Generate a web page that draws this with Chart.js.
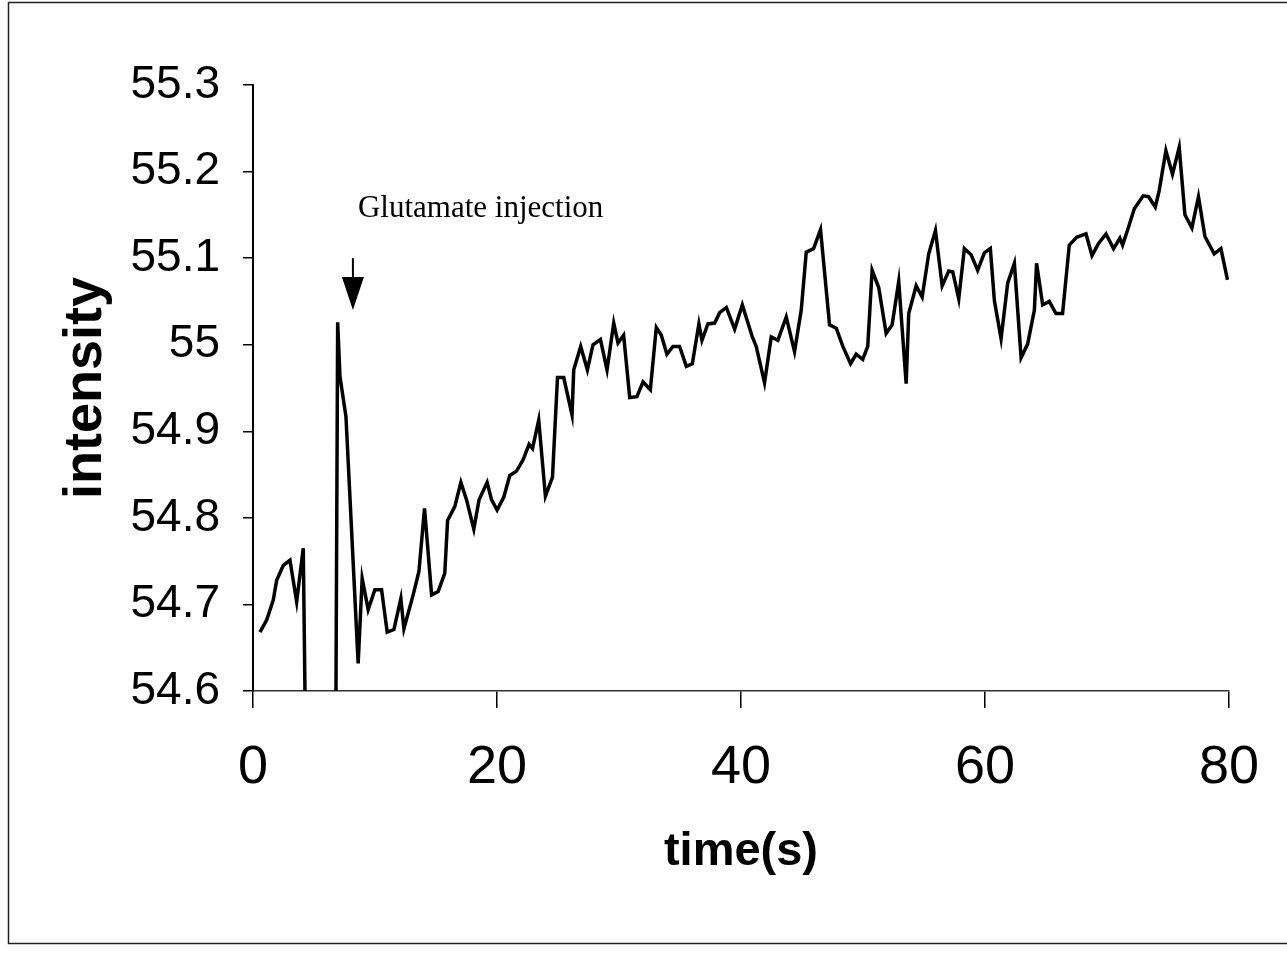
<!DOCTYPE html>
<html>
<head>
<meta charset="utf-8">
<script src="https://cdn.jsdelivr.net/npm/chart.js@4/dist/chart.umd.min.js"></script>
<style>
  html, body { margin: 0; padding: 0; background: #fff; }
  #wrap { width: 1287px; height: 956px; position: relative; }
</style>
</head>
<body>
<div id="wrap"><canvas id="c"></canvas></div>
<script>
// ---- data ----
const timeSec = [0.57,1.12,1.66,1.94,2.48,3.03,3.58,4.12,4.65,5.2,5.8,6.4,6.94,7.13,7.62,8.62,8.95,9.44,9.99,10.54,
  11.0,11.55,12.12,12.37,13.13,13.6,14.06,14.64,15.18,15.72,15.95,16.54,17.04,17.5,18.1,18.53,19.19,19.55,20.01,20.56,
  21.05,21.6,22.14,22.63,22.91,23.42,23.97,24.55,24.73,24.96,25.47,26.15,26.29,26.86,27.41,27.87,28.48,29.02,29.57,29.92,
  30.38,30.88,31.47,31.97,32.57,33.06,33.47,33.93,34.42,34.97,35.52,36.01,36.55,36.8,37.29,37.84,38.25,38.8,39.48,40.11,
  40.93,41.25,41.93,42.48,43.02,43.71,44.39,44.94,45.35,45.95,46.52,47.26,47.81,48.35,48.98,49.44,49.98,50.39,50.75,51.29,
  51.9,52.39,52.93,53.54,53.75,54.36,54.85,55.39,55.94,56.49,57.03,57.36,57.85,58.31,58.86,59.4,59.95,60.44,60.77,61.32,
  61.86,62.41,62.96,63.5,64.05,64.23,64.73,65.27,65.82,66.36,66.91,67.51,68.28,68.77,69.31,69.92,70.54,71.06,71.28,71.77,
  72.24,72.97,73.41,73.96,74.28,74.83,75.37,75.92,76.39,76.96,77.5,78.03,78.79,79.34,79.88];
const intensity = [54.668,54.682,54.705,54.728,54.745,54.751,54.703,54.765,54.14,53.6,53.4,53.37,55.026,54.963,54.917,54.632,54.730,54.694,54.717,54.717,
  54.668,54.671,54.707,54.672,54.711,54.738,54.811,54.711,54.715,54.736,54.797,54.813,54.841,54.821,54.787,54.821,54.841,54.821,54.809,54.824,
  54.849,54.854,54.867,54.885,54.880,54.913,54.825,54.847,54.898,54.962,54.962,54.919,54.971,54.998,54.971,55.000,55.006,54.971,55.025,55.002,
  55.011,54.939,54.940,54.957,54.948,55.020,55.011,54.989,54.998,54.998,54.975,54.978,55.024,55.005,55.024,55.025,55.037,55.043,55.018,55.046,
  55.009,54.998,54.956,55.009,55.005,55.032,54.992,55.040,55.107,55.111,55.133,55.023,55.019,54.998,54.978,54.989,54.983,54.998,55.086,55.066,
  55.013,55.023,55.073,54.955,55.036,55.068,55.055,55.105,55.132,55.068,55.085,55.084,55.053,55.111,55.104,55.086,55.106,55.111,55.051,55.007,
  55.071,55.094,54.985,55.001,55.040,55.094,55.046,55.050,55.036,55.036,55.115,55.124,55.128,55.103,55.117,55.128,55.111,55.123,55.115,55.136,
  55.157,55.172,55.171,55.159,55.178,55.224,55.197,55.228,55.150,55.135,55.171,55.125,55.105,55.111,55.075];
const xTickValues = [0, 20, 40, 60, 80];
const yTickValues = [54.6, 54.7, 54.8, 54.9, 55.0, 55.1, 55.2, 55.3];
const annotationText = 'Glutamate injection';
const injectionTime = 8.19;     // arrow position (s)
const arrowTipValue = 55.04;
const arrowTopValue = 55.10;
const labelTime = 8.6;
const labelValue = 55.147;

const points = timeSec.map((t, i) => ({ x: t, y: intensity[i] }));

const framePlugin = {
  id: 'frame',
  beforeDraw(chart) {
    const ctx = chart.ctx;
    ctx.save();
    ctx.fillStyle = '#fff';
    ctx.fillRect(0, 0, chart.width, chart.height);
    ctx.strokeStyle = '#222';
    ctx.lineWidth = 1.5;
    ctx.strokeRect(8.5, 2.5, chart.width + 20, 941);
    ctx.restore();
  }
};

const annotationPlugin = {
  id: 'injection',
  afterDraw(chart) {
    const { ctx, scales: { x, y } } = chart;
    ctx.save();
    ctx.fillStyle = '#000';
    ctx.strokeStyle = '#000';
    ctx.font = '31px "Liberation Serif", "Times New Roman", serif';
    ctx.textBaseline = 'alphabetic';
    ctx.textAlign = 'left';
    ctx.fillText(annotationText, x.getPixelForValue(labelTime), y.getPixelForValue(labelValue));
    const ax = x.getPixelForValue(injectionTime);
    const tip = y.getPixelForValue(arrowTipValue);
    const top = y.getPixelForValue(arrowTopValue);
    ctx.lineWidth = 2;
    ctx.beginPath();
    ctx.moveTo(ax, top);
    ctx.lineTo(ax, tip - 20);
    ctx.stroke();
    ctx.beginPath();
    ctx.moveTo(ax, tip);
    ctx.lineTo(ax - 11, tip - 33);
    ctx.lineTo(ax + 11, tip - 33);
    ctx.closePath();
    ctx.fill();
    ctx.restore();
  }
};

new Chart(document.getElementById('c'), {
  type: 'line',
  data: {
    datasets: [{
      data: points,
      borderColor: '#000',
      borderWidth: 3.5,
      pointRadius: 0,
      tension: 0,
      fill: false
    }]
  },
  options: {
    responsive: true,
    maintainAspectRatio: false,
    animation: false,
    devicePixelRatio: 1,
    layout: { padding: { left: 0, top: 85, right: 57, bottom: 0 } },
    plugins: { legend: { display: false }, tooltip: { enabled: false } },
    scales: {
      x: {
        type: 'linear',
        min: 0, max: 80,
        afterBuildTicks(scale) { scale.ticks = xTickValues.map(v => ({ value: v })); },
        afterFit(scale) { scale.height = 265; },
        border: { display: true, color: '#333', width: 1.5 },
        grid: { display: true, drawOnChartArea: false, drawTicks: true, tickLength: 17, color: '#000', lineWidth: 1.5 },
        ticks: {
          color: '#000',
          padding: 28,
          maxRotation: 0,
          font: { family: '"Liberation Sans Narrow", "Liberation Sans", Arial, sans-serif', size: 54 },
          callback: v => String(v)
        },
        title: {
          display: true,
          text: 'time(s)',
          color: '#000',
          font: { family: '"Liberation Sans", Arial, sans-serif', size: 47, weight: 'bold' },
          padding: { top: 0, bottom: 76 }
        }
      },
      y: {
        type: 'linear',
        min: 54.6, max: 55.3,
        afterBuildTicks(scale) { scale.ticks = yTickValues.map(v => ({ value: v })); },
        afterFit(scale) { scale.width = 253; },
        border: { display: true, color: '#000', width: 2 },
        grid: { display: true, drawOnChartArea: false, drawTicks: true, tickLength: 10, color: '#000', lineWidth: 1.5 },
        ticks: {
          color: '#000',
          padding: 23,
          font: { family: '"Liberation Sans", Arial, sans-serif', size: 46 },
          callback: v => String(Math.round(v * 10) / 10)
        },
        title: {
          display: true,
          text: 'intensity',
          color: '#000',
          font: { family: '"Liberation Sans", Arial, sans-serif', size: 54, weight: 'bold' },
          padding: { top: 54, bottom: 0 }
        }
      }
    }
  },
  plugins: [framePlugin, annotationPlugin]
});
</script>
</body>
</html>
